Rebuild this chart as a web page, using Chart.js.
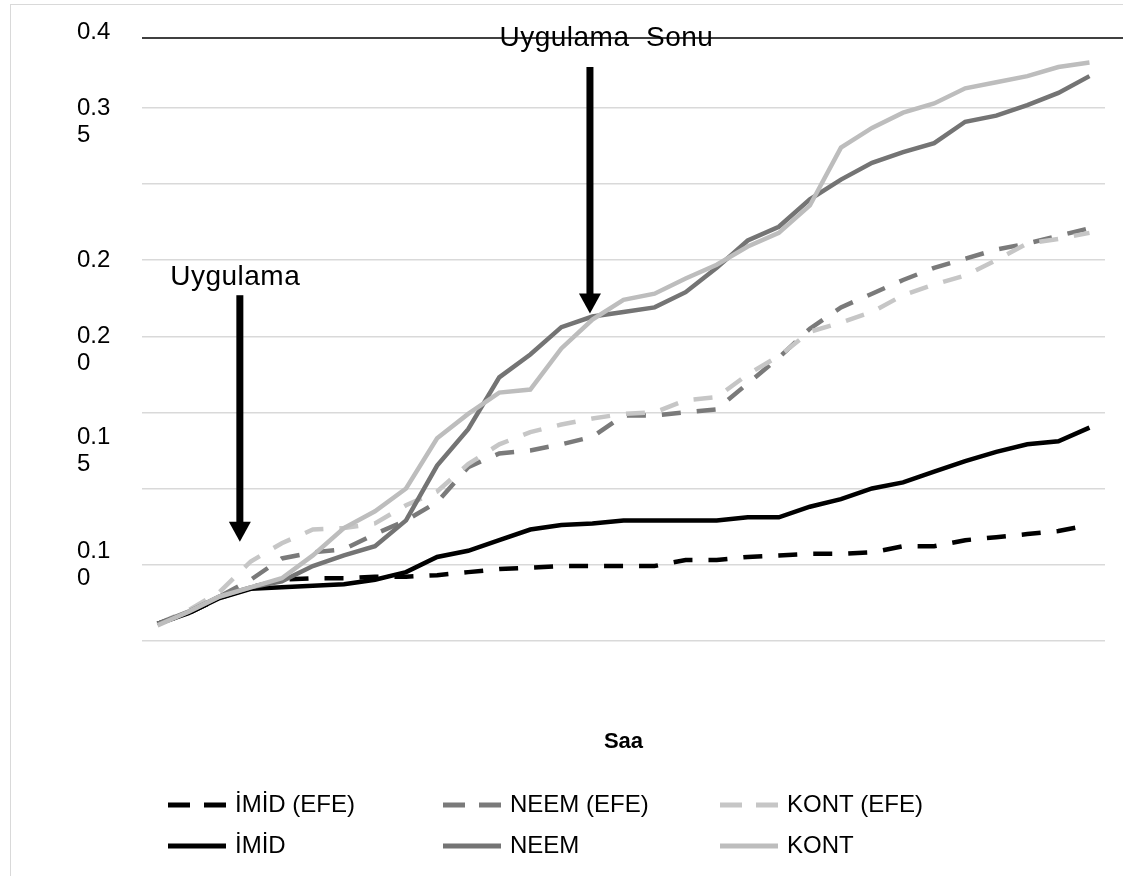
<!DOCTYPE html>
<html lang="tr">
<head>
<meta charset="utf-8">
<title>Saa</title>
<script src="https://cdn.jsdelivr.net/npm/chart.js@4.4.1/dist/chart.umd.min.js"></script>
<style>
  html, body { margin: 0; padding: 0; background: #fff; }
</style>
</head>
<body>
<canvas id="growthChart" width="1123" height="876"></canvas>
<script>
// Saat (x ekseni etiketleri grafikte gösterilmiyor)
const hours = [0, 1, 2, 3, 4, 5, 6, 7, 8, 9, 10, 11, 12, 13, 14, 15,
               16, 17, 18, 19, 20, 21, 22, 23, 24, 25, 26, 27, 28, 29, 30];

// Serilerin değerleri
const imidEfe = [0.011, 0.018, 0.028, 0.035, 0.040, 0.041, 0.041, 0.042, 0.042, 0.043, 0.045,
                 0.047, 0.048, 0.049, 0.049, 0.049, 0.049, 0.053, 0.053, 0.055, 0.056,
                 0.057, 0.057, 0.058, 0.062, 0.062, 0.066, 0.068, 0.070, 0.072, 0.076];
const neemEfe = [0.011, 0.019, 0.029, 0.040, 0.054, 0.058, 0.060, 0.070, 0.079, 0.091, 0.114,
                 0.123, 0.125, 0.129, 0.134, 0.148, 0.148, 0.150, 0.152, 0.169, 0.186,
                 0.205, 0.219, 0.228, 0.237, 0.245, 0.251, 0.257, 0.261, 0.266, 0.271];
const kontEfe = [0.011, 0.020, 0.032, 0.052, 0.064, 0.073, 0.074, 0.077, 0.089, 0.098, 0.116,
                 0.129, 0.137, 0.142, 0.146, 0.149, 0.150, 0.158, 0.160, 0.175, 0.187,
                 0.203, 0.209, 0.216, 0.227, 0.234, 0.240, 0.250, 0.261, 0.264, 0.268];
const imid = [0.011, 0.018, 0.028, 0.034, 0.035, 0.036, 0.037, 0.040, 0.045, 0.055, 0.059,
              0.066, 0.073, 0.076, 0.077, 0.079, 0.079, 0.079, 0.079, 0.081, 0.081,
              0.088, 0.093, 0.100, 0.104, 0.111, 0.118, 0.124, 0.129, 0.131, 0.140];
const neem = [0.011, 0.019, 0.029, 0.035, 0.039, 0.049, 0.056, 0.062, 0.079, 0.115, 0.139,
              0.173, 0.188, 0.206, 0.213, 0.216, 0.219, 0.229, 0.245, 0.263, 0.272,
              0.290, 0.303, 0.314, 0.321, 0.327, 0.341, 0.345, 0.352, 0.360, 0.371];
const kont = [0.010, 0.019, 0.029, 0.035, 0.041, 0.056, 0.074, 0.085, 0.100, 0.133, 0.149,
              0.163, 0.165, 0.192, 0.211, 0.224, 0.228, 0.238, 0.247, 0.259, 0.268,
              0.286, 0.324, 0.337, 0.347, 0.353, 0.363, 0.367, 0.371, 0.377, 0.380];

// Y ekseni etiketleri (kaynaktaki gibi bölünmüş)
const yTickValues = [0.4, 0.35, 0.25, 0.2, 0.125, 0.05];
const yTickTexts = ['0.4', ['', '0.3', '5'], '0.2', ['', '0.2', '0'], ['0.1', '5'], ['0.1', '0']];

const FONT = '"Liberation Sans", Arial, sans-serif';
Chart.defaults.font.family = FONT;
Chart.defaults.color = '#000';

function tickKey(v) {
    return Math.round(v * 1000);
}

// White background and thin frame
const frame = {
    id: 'frame',
    beforeDraw(chart) {
        const ctx = chart.ctx;
        ctx.save();
        ctx.fillStyle = '#fff';
        ctx.fillRect(0, 0, chart.width, chart.height);
        ctx.strokeStyle = '#d9d9d9';
        ctx.lineWidth = 1;
        ctx.strokeRect(10.5, 4.5, chart.width + 20, chart.height + 20);
        ctx.restore();
    }
};

function drawArrow(ctx, x, yTop, yTip) {
    ctx.fillStyle = '#000';
    ctx.fillRect(x - 3.5, yTop, 7, yTip - yTop - 18);
    ctx.beginPath();
    ctx.moveTo(x - 11, yTip - 20);
    ctx.lineTo(x + 11, yTip - 20);
    ctx.lineTo(x, yTip);
    ctx.closePath();
    ctx.fill();
}

// Uygulama / Uygulama Sonu notes
const notes = {
    id: 'notes',
    afterDatasetsDraw(chart) {
        const { ctx, chartArea } = chart;
        const x = chart.scales.x;
        const y = chart.scales.y;
        ctx.save();

        const lineY = y.getPixelForValue(0.396);
        ctx.strokeStyle = '#000';
        ctx.lineWidth = 1.5;
        ctx.beginPath();
        ctx.moveTo(chartArea.left, lineY);
        ctx.lineTo(chart.width, lineY);
        ctx.stroke();

        ctx.font = '28px ' + FONT;
        ctx.letterSpacing = '0.5px';
        ctx.textAlign = 'center';
        ctx.textBaseline = 'middle';
        ctx.fillStyle = '#000';
        ctx.fillText('Uygulama', x.getPixelForValue(2.5), y.getPixelForValue(0.239));
        ctx.fillText('Uygulama  Sonu', x.getPixelForValue(14.45), lineY);

        drawArrow(ctx, x.getPixelForValue(2.65), y.getPixelForValue(0.227), y.getPixelForValue(0.065));
        drawArrow(ctx, x.getPixelForValue(13.92), y.getPixelForValue(0.377), y.getPixelForValue(0.215));
        ctx.restore();
    }
};

// Legend in 3 columns x 2 rows
const gridLegend = {
    id: 'gridLegend',
    afterDraw(chart) {
        const ctx = chart.ctx;
        const cols = [168, 443, 720];
        const rows = [805, 846];
        ctx.save();
        chart.data.datasets.forEach((ds, i) => {
            const x0 = cols[i % 3];
            const yy = rows[Math.floor(i / 3)];
            ctx.strokeStyle = ds.borderColor;
            ctx.lineWidth = 5;
            ctx.setLineDash(ds.borderDash.length ? [22, 14] : []);
            ctx.beginPath();
            ctx.moveTo(x0, yy);
            ctx.lineTo(x0 + 58, yy);
            ctx.stroke();
            ctx.setLineDash([]);
            ctx.font = '24px ' + FONT;
            ctx.fillStyle = '#000';
            ctx.textAlign = 'left';
            ctx.textBaseline = 'middle';
            ctx.fillText(ds.label, x0 + 67, yy);
        });
        ctx.restore();
    }
};

function makeSet(label, data, color, dashed, order) {
    return {
        label: label,
        data: data,
        borderColor: color,
        backgroundColor: color,
        borderWidth: 4.5,
        borderDash: dashed ? [19, 16] : [],
        borderCapStyle: 'butt',
        pointRadius: 0,
        tension: 0,
        fill: false,
        order: order
    };
}

new Chart(document.getElementById('growthChart'), {
    type: 'line',
    data: {
        labels: hours,
        datasets: [
            makeSet('İMİD (EFE)', imidEfe, '#000000', true, 6),
            makeSet('NEEM (EFE)', neemEfe, '#7a7a7a', true, 5),
            makeSet('KONT (EFE)', kontEfe, '#c6c6c6', true, 4),
            makeSet('İMİD', imid, '#000000', false, 3),
            makeSet('NEEM', neem, '#747474', false, 2),
            makeSet('KONT', kont, '#bdbdbd', false, 1)
        ]
    },
    options: {
        responsive: false,
        animation: false,
        layout: { padding: { left: 77, top: 32, right: 18, bottom: 121 } },
        plugins: {
            legend: { display: false },
            tooltip: { enabled: false }
        },
        scales: {
            x: {
                offset: true,
                grid: { display: false, drawTicks: false },
                border: { display: false },
                ticks: { display: false },
                title: {
                    display: true,
                    text: 'Saa',
                    color: '#000',
                    font: { size: 22, weight: 'bold' },
                    padding: { top: 88, bottom: 0 }
                }
            },
            y: {
                min: 0,
                max: 0.4,
                afterFit(scale) { scale.width = 65; },
                border: { display: false },
                grid: {
                    drawTicks: false,
                    lineWidth: 1.5,
                    color: (c) => {
                        const k = tickKey(c.tick.value);
                        return (k % 50 === 0 && k !== 400) ? '#d9d9d9' : 'rgba(0,0,0,0)';
                    }
                },
                ticks: {
                    stepSize: 0.025,
                    maxTicksLimit: 20,
                    autoSkip: false,
                    crossAlign: 'far',
                    padding: 0,
                    color: '#000',
                    font: { size: 24, lineHeight: '27px' },
                    callback: (value) => {
                        const idx = yTickValues.findIndex(v => tickKey(v) === tickKey(value));
                        return idx >= 0 ? yTickTexts[idx] : '';
                    }
                }
            }
        }
    },
    plugins: [frame, notes, gridLegend]
});
</script>
</body>
</html>
